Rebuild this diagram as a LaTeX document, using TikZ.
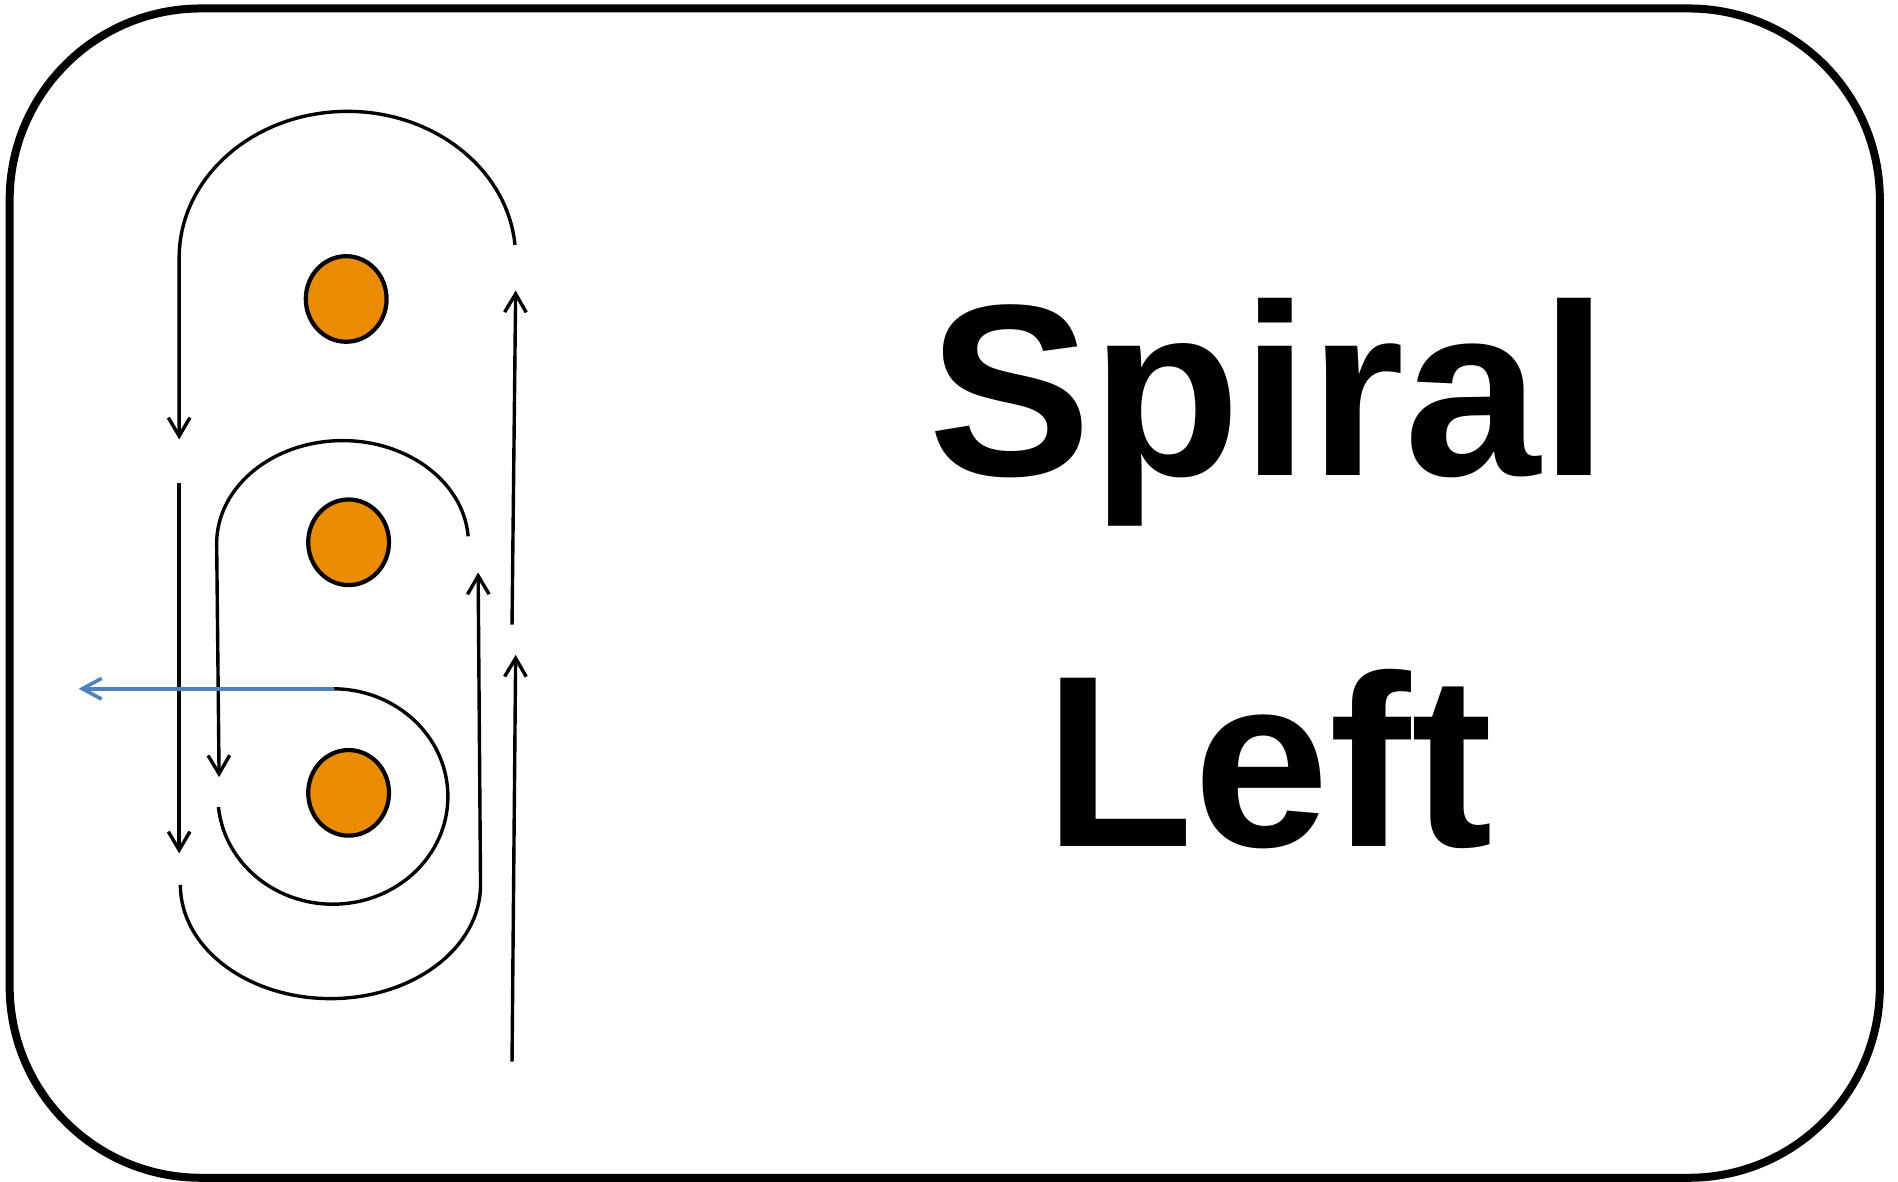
\documentclass[tikz,border=0pt]{standalone}
\usepackage{fontspec}
\setmainfont{Liberation Sans}
\usetikzlibrary{arrows.meta,shapes.geometric}
\definecolor{dotorange}{HTML}{EA8B00}
\definecolor{outblue}{HTML}{4F81BD}
\begin{document}
\begin{tikzpicture}[x=0.3026mm,y=0.3026mm,
  wire/.style={line width=0.85mm,black},
  tip/.style={-{Straight Barb[length=4.6mm,width=5.4mm,line width=0.85mm]}},
  dot/.style={ellipse,draw=black,line width=1.05mm,fill=dotorange,minimum width=20.2mm,minimum height=21.4mm,inner sep=0pt},
  label/.style={anchor=base,font=\bfseries\fontsize{174}{263}\selectfont}]
\useasboundingbox (0,0) rectangle (1568,976);
\draw[line width=2.0mm,rounded corners=47.8mm] (8,3) rectangle (1553,969);
% orange dots
\node[dot] (c1) at (286,729) {};
\node[dot] (c2) at (288,528) {};
\node[dot] (c3) at (288,321) {};
% coordinates
\coordinate (a1s) at ({287+139*cos(5)},{763+121*sin(5)});
\coordinate (a1e) at (148,613);
\coordinate (l2s) at (148,577);
\coordinate (l2e) at (148,271);
\coordinate (a2s) at ({283+104*cos(4)},{527+85*sin(4)});
\coordinate (a2e) at (181,334);
\coordinate (a4s) at (149,245);
\coordinate (a4e) at (395,503);
\coordinate (a3s) at ({275+95*cos(185.6)},{318+89*sin(185.6)});
\coordinate (bs) at (276,407);
\coordinate (be) at (65,407);
\coordinate (r1s) at (423,460);
\coordinate (r1e) at (426,736);
\coordinate (r2s) at (423,99);
\coordinate (r2e) at (426,435);
% top arc
\draw[wire,tip] (a1s) arc[start angle=5,end angle=180,x radius=42.06mm,y radius=36.61mm] -- (a1e);
% left long line
\draw[wire,tip] (l2s) -- (l2e);
% middle arc
\draw[wire,tip] (a2s) arc[start angle=4,end angle=180,x radius=31.47mm,y radius=25.72mm] -- (a2e);
% bottom big arc
\draw[wire,tip] (a4s) arc[start angle=180,end angle=360,x radius=37.52mm,y radius=28.44mm] -- (a4e);
% inner arc
\draw[wire] (a3s) arc[start angle=185.6,end angle=450,x radius=28.75mm,y radius=26.93mm];
\draw[line width=0.9mm,outblue,-{Straight Barb[length=4.8mm,width=5.2mm,line width=0.9mm]}] (bs) -- (be);
% right arrows
\draw[wire,tip] (r1s) -- (r1e);
\draw[wire,tip] (r2s) -- (r2e);
% text
\node[label] (t1) at (1048,583) {Spiral};
\node[label] (t2) at (1048,277) {Left};
\end{tikzpicture}
\end{document}
